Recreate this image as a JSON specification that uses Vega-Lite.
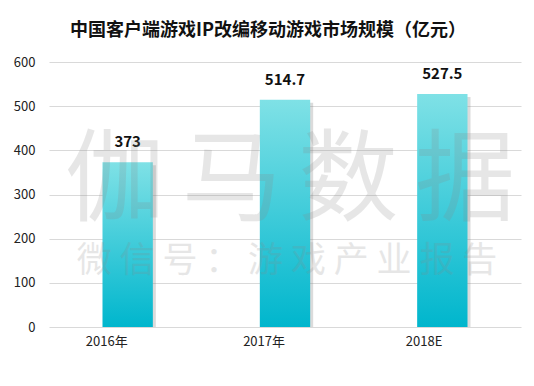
{
  "$schema": "https://vega.github.io/schema/vega-lite/v6.json",
  "width": 472,
  "height": 265,
  "autosize": {"type": "none"},
  "padding": {"left": 49, "top": 62, "right": 13, "bottom": 59},
  "background": "white",
  "title": {
    "text": "中国客户端游戏IP改编移动游戏市场规模（亿元）",
    "font": "Noto Sans CJK SC",
    "fontSize": 18,
    "fontWeight": "bold",
    "color": "#111111",
    "anchor": "middle",
    "dx": -17,
    "offset": 16
  },
  "config": {
    "view": {"stroke": null},
    "font": "Noto Sans CJK SC"
  },
  "datasets": {
    "bars": [
      {"year": "2016年", "value": 373, "label": "373"},
      {"year": "2017年", "value": 514.7, "label": "514.7"},
      {"year": "2018E", "value": 527.5, "label": "527.5"}
    ],
    "marks": [
      {"year": "2017年", "value": 326, "text": "伽\u2006马\u2006数\u2006据", "kind": "big"},
      {"year": "2017年", "value": 149, "text": "微 信 号 ： 游 戏 产 业 报 告", "kind": "small"}
    ]
  },
  "layer": [
    {
      "data": {"name": "bars"},
      "mark": {"type": "bar", "color": "#888888", "opacity": 0.3, "xOffset": 3, "yOffset": 3},
      "encoding": {
        "x": {"field": "year", "type": "nominal", "sort": null,
          "scale": {"paddingInner": 0.68, "paddingOuter": 0.34}},
        "y": {"field": "value", "type": "quantitative"},
        "y2": {"datum": 0}
      }
    },
    {
      "data": {"name": "bars"},
      "mark": {
        "type": "bar",
        "color": {
          "x1": 0, "y1": 0, "x2": 0, "y2": 1,
          "gradient": "linear",
          "stops": [
            {"offset": 0, "color": "#7fe1e6"},
            {"offset": 1, "color": "#00b6cd"}
          ]
        }
      },
      "encoding": {
        "x": {
          "field": "year",
          "type": "nominal",
          "sort": null,
          "scale": {"paddingInner": 0.68, "paddingOuter": 0.34},
          "axis": {
            "title": null,
            "labelAngle": 0,
            "labelFontSize": 13,
            "labelColor": "#222222",
            "labelPadding": 14,
            "ticks": false,
            "domain": false
          }
        },
        "y": {
          "field": "value",
          "type": "quantitative",
          "scale": {"domain": [0, 600]},
          "axis": {
            "title": null,
            "values": [0, 100, 200, 300, 400, 500, 600],
            "labelFontSize": 13,
            "labelColor": "#222222",
            "labelPadding": 14,
            "ticks": false,
            "domain": false,
            "gridColor": "#d9d9d9",
            "gridWidth": 1
          }
        }
      }
    },
    {
      "data": {"name": "bars"},
      "mark": {"type": "text", "dy": -12, "fontSize": 15, "fontWeight": "bold", "color": "#111111", "baseline": "bottom"},
      "encoding": {
        "x": {"field": "year", "type": "nominal", "sort": null},
        "y": {"field": "value", "type": "quantitative"},
        "text": {"field": "label"}
      }
    },
    {
      "data": {"name": "marks"},
      "transform": [{"filter": "datum.kind == 'big'"}],
      "mark": {"type": "text", "fontSize": 100, "color": "#888888", "opacity": 0.2, "baseline": "middle", "dx": 5},
      "encoding": {
        "x": {"field": "year", "type": "nominal", "sort": null},
        "y": {"field": "value", "type": "quantitative"},
        "text": {"field": "text"}
      }
    },
    {
      "data": {"name": "marks"},
      "transform": [{"filter": "datum.kind == 'small'"}],
      "mark": {"type": "text", "fontSize": 35, "color": "#888888", "opacity": 0.2, "baseline": "middle", "dx": 2},
      "encoding": {
        "x": {"field": "year", "type": "nominal", "sort": null},
        "y": {"field": "value", "type": "quantitative"},
        "text": {"field": "text"}
      }
    }
  ]
}
